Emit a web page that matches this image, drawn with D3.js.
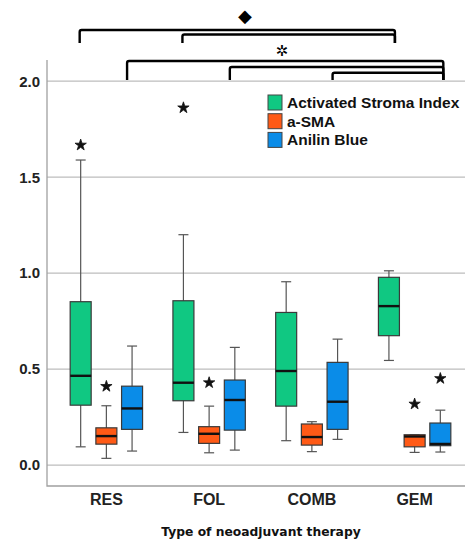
<!DOCTYPE html>
<html>
<head>
<meta charset="utf-8">
<script src="https://cdn.jsdelivr.net/npm/d3@7"></script>
<style>
  body { margin: 0; background: #fff; }
  svg { display: block; font-family: "Liberation Sans", Arial, sans-serif; }
</style>
</head>
<body>
<svg id="chart" width="465" height="541"></svg>
<script>
// categories and series
var categories = ["RES", "FOL", "COMB", "GEM"];
var seriesNames = ["Activated Stroma Index", "a-SMA", "Anilin Blue"];
var seriesColors = ["#10c882", "#ff5a16", "#0a8ce8"];
var yTicks = [0.0, 0.5, 1.0, 1.5, 2.0];

// box stats per category: [min, q1, median, q3, max]
var stromaIndex = [[0.095, 0.312, 0.465, 0.851, 1.589], [0.170, 0.335, 0.429, 0.856, 1.200],
                   [0.127, 0.307, 0.490, 0.795, 0.955], [0.545, 0.674, 0.828, 0.978, 1.012]];
var aSMA = [[0.035, 0.109, 0.151, 0.194, 0.309], [0.064, 0.113, 0.163, 0.200, 0.307],
            [0.070, 0.104, 0.146, 0.214, 0.226], [0.066, 0.095, 0.149, 0.158, 0.158]];
var anilinBlue = [[0.073, 0.186, 0.295, 0.411, 0.620], [0.078, 0.182, 0.339, 0.443, 0.613],
                  [0.134, 0.186, 0.330, 0.535, 0.656], [0.068, 0.101, 0.110, 0.219, 0.286]];

// extreme values (drawn as stars)
var extremeCat = ["RES", "FOL", "RES", "FOL", "GEM", "GEM"];
var extremeSeries = [0, 0, 1, 1, 1, 2];
var extremeValue = [1.667, 1.861, 0.410, 0.429, 0.318, 0.451];

// significance brackets: from [cat, series] to [cat, series]
var bracketsTop = [[["RES", 0], ["GEM", 0]], [["FOL", 0], ["GEM", 0]]];
var bracketsLow = [[["RES", 2], ["GEM", 2]], [["FOL", 2], ["GEM", 2]], [["COMB", 2], ["GEM", 2]]];

var allSeries = [stromaIndex, aSMA, anilinBlue];

var width = 465, height = 541;
var plot = {left: 47, right: 465, top: 60, bottom: 486};
var svg = d3.select("#chart");

var x = d3.scaleBand().domain(categories).range([55, 466]);
var xs = d3.scalePoint().domain(d3.range(seriesNames.length)).range([-25.7, 25.7]);
var y = d3.scaleLinear().domain([-0.109, 2.11]).range([plot.bottom, plot.top]);

function cx(cat, s) { return x(cat) + x.bandwidth() / 2 + xs(s); }

// gridlines
svg.append("g").selectAll("line").data(yTicks).join("line")
  .attr("x1", plot.left).attr("x2", plot.right)
  .attr("y1", d => y(d)).attr("y2", d => y(d))
  .attr("stroke", "#bdbdbd").attr("stroke-width", 1.3);

// frame
svg.append("path")
  .attr("d", "M" + plot.left + "," + plot.top + "V" + plot.bottom + "H" + plot.right)
  .attr("fill", "none").attr("stroke", "#a0a0a0").attr("stroke-width", 1.3);

// y labels
svg.append("g").selectAll("text").data(yTicks).join("text")
  .attr("x", 40).attr("y", d => y(d)).attr("dy", "0.36em")
  .attr("text-anchor", "end")
  .style("font", "bold 15px 'Liberation Sans'").attr("fill", "#222")
  .text(d3.format(".1f"));

// x labels
svg.append("g").selectAll("text").data(categories).join("text")
  .attr("x", d => x(d) + x.bandwidth() / 2).attr("y", 505)
  .attr("text-anchor", "middle")
  .style("font", "bold 16px 'Liberation Sans'").attr("fill", "#222")
  .text(d => d);

svg.append("text")
  .attr("x", 261).attr("y", 536).attr("text-anchor", "middle")
  .style("font", "bold 12.3px 'DejaVu Sans'").attr("fill", "#111")
  .text("Type of neoadjuvant therapy");

// boxes
var boxW = 21, capW = 10;
allSeries.forEach(function(stats, s) {
  var g = svg.append("g").selectAll("g").data(categories).join("g")
    .attr("transform", d => "translate(" + cx(d, s) + ",0)");
  g.append("line").attr("x1", 0).attr("x2", 0)
    .attr("y1", (d, i) => y(stats[i][4])).attr("y2", (d, i) => y(stats[i][0]))
    .attr("stroke", "#555").attr("stroke-width", 1.2);
  g.append("line").attr("x1", -capW / 2).attr("x2", capW / 2)
    .attr("y1", (d, i) => y(stats[i][4])).attr("y2", (d, i) => y(stats[i][4]))
    .attr("stroke", "#555").attr("stroke-width", 1.2);
  g.append("line").attr("x1", -capW / 2).attr("x2", capW / 2)
    .attr("y1", (d, i) => y(stats[i][0])).attr("y2", (d, i) => y(stats[i][0]))
    .attr("stroke", "#555").attr("stroke-width", 1.2);
  g.append("rect").attr("x", -boxW / 2).attr("width", boxW)
    .attr("y", (d, i) => y(stats[i][3]))
    .attr("height", (d, i) => y(stats[i][1]) - y(stats[i][3]))
    .attr("fill", seriesColors[s]).attr("stroke", "#3a3a3a").attr("stroke-width", 1.2);
  g.append("line").attr("x1", -boxW / 2).attr("x2", boxW / 2)
    .attr("y1", (d, i) => y(stats[i][2])).attr("y2", (d, i) => y(stats[i][2]))
    .attr("stroke", "#111").attr("stroke-width", 2.4);
});

// extreme stars
var star = d3.symbol().type(d3.symbolStar).size(40);
svg.append("g").selectAll("path").data(extremeValue).join("path")
  .attr("d", star)
  .attr("transform", (d, i) => "translate(" + cx(extremeCat[i], extremeSeries[i]) + "," + y(d) + ")")
  .attr("fill", "#111").attr("stroke", "#111").attr("stroke-width", 0.8).attr("stroke-linejoin", "round");

// legend
var legend = svg.append("g").attr("transform", "translate(268,95)");
var lg = legend.selectAll("g").data(seriesNames).join("g")
  .attr("transform", (d, i) => "translate(0," + (i * 18.7) + ")");
lg.append("rect").attr("width", 14).attr("height", 15)
  .attr("fill", (d, i) => seriesColors[i]).attr("stroke", "#444").attr("stroke-width", 1);
lg.append("text").attr("x", 19).attr("y", 7.5).attr("dy", "0.36em")
  .style("font", "bold 15.5px 'Liberation Sans'").attr("fill", "#111")
  .text(d => d);

// brackets
function drawBrackets(list, tops, legBottom, dxLeft, dxRight) {
  svg.append("g").selectAll("path").data(list).join("path")
    .attr("d", function(b, i) {
      var x1 = cx(b[0][0], b[0][1]) + dxLeft, x2 = cx(b[1][0], b[1][1]) + dxRight, t = tops[i];
      return "M" + x1 + "," + legBottom + "V" + (t + 2) + "Q" + x1 + "," + t + " " + (x1 + 2) + "," + t +
        "H" + (x2 - 2) + "Q" + x2 + "," + t + " " + x2 + "," + (t + 2) + "V" + legBottom;
    })
    .attr("fill", "none").attr("stroke", "#000").attr("stroke-width", 2.4);
}
drawBrackets(bracketsTop, [30, 34.5], 43, -1, 6);
drawBrackets(bracketsLow, [61, 67, 72.7], 80, -5, 3);

svg.append("text").attr("x", 245).attr("y", 16).attr("dy", "0.36em")
  .attr("text-anchor", "middle")
  .style("font", "18px 'DejaVu Sans'").text("\u25C6");
svg.append("text").attr("x", 282).attr("y", 51).attr("dy", "0.36em")
  .attr("text-anchor", "middle")
  .style("font", "15px 'DejaVu Sans'").text("\u2732");
</script>
</body>
</html>
